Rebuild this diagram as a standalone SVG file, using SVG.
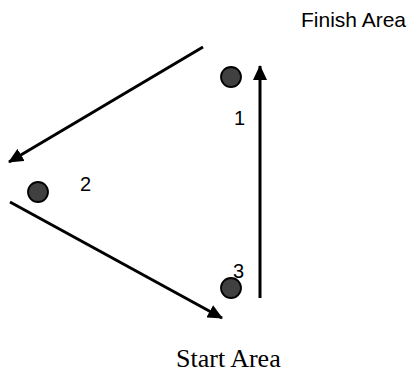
<svg xmlns="http://www.w3.org/2000/svg" width="415" height="372" viewBox="0 0 415 372">
<style>
.dot{fill:#404040;stroke:#000;stroke-width:1.8}
.lbl{font-family:"Liberation Sans",Arial,sans-serif;font-size:20px;fill:#000}
.big{font-family:"Liberation Sans",Arial,sans-serif;font-size:21px;fill:#000}
.ser{font-family:"Liberation Serif","Times New Roman",serif;font-size:26px;fill:#000}
.edge{stroke:#000;stroke-width:3;fill:none;marker-end:url(#ah)}
</style>
<defs>
<marker id="ah" markerUnits="userSpaceOnUse" markerWidth="16" markerHeight="14" refX="14" refY="7" orient="auto">
<path d="M0,0 L15,7 L0,14 Z" fill="#000"/>
</marker>
</defs>
<g id="connectors">
<line class="edge" x1="203" y1="47" x2="9" y2="162"/>
<line class="edge" x1="10" y1="202" x2="222" y2="318"/>
<line class="edge" x1="260" y1="298" x2="260" y2="66"/>
</g>
<g id="node1"><circle class="dot" cx="231" cy="77" r="10"/><text class="lbl" x="234" y="125">1</text></g>
<g id="node2"><circle class="dot" cx="38" cy="192" r="10"/><text class="lbl" x="80" y="191">2</text></g>
<g id="node3"><circle class="dot" cx="231" cy="288" r="10"/><text class="lbl" x="233" y="278">3</text></g>
<g id="finish"><text class="big" x="301" y="27">Finish Area</text></g>
<g id="start"><text class="ser" x="176" y="367">Start Area</text></g>
</svg>
